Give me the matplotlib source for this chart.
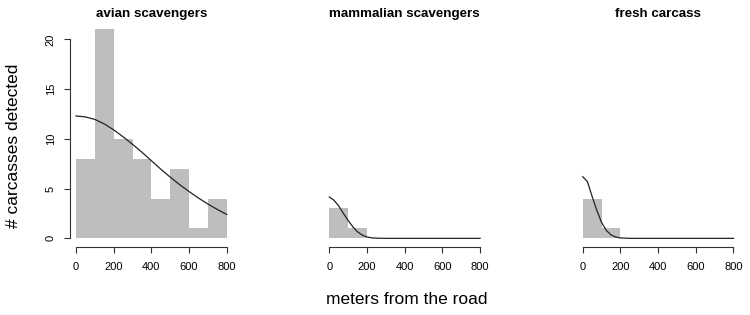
import matplotlib
matplotlib.use("Agg")
import matplotlib.pyplot as plt

plt.rcParams["font.family"] = ["Liberation Sans", "DejaVu Sans"]

# histogram bins (meters from the road) and counts per panel
bin_edges = [0, 100, 200, 300, 400, 500, 600, 700, 800]
avian_counts = [8, 21, 10, 8, 4, 7, 1, 4]
mammal_counts = [3, 1, 0, 0, 0, 0, 0, 0]
fresh_counts = [4, 1, 0, 0, 0, 0, 0, 0]

# fitted detection curves
avian_curve_x = [0, 50, 100, 150, 200, 250, 300, 350, 400, 450, 500, 550, 600, 650, 700, 750, 800]
avian_curve_y = [12.3, 12.2, 11.95, 11.5, 10.9, 10.2, 9.45, 8.65, 7.8, 6.95, 6.15, 5.4, 4.7, 4.05, 3.45, 2.9, 2.4]
mammal_curve_x = [0, 25, 50, 75, 100, 125, 150, 175, 200, 225, 250, 300, 800]
mammal_curve_y = [4.15, 3.82, 3.25, 2.5, 1.8, 1.15, 0.65, 0.32, 0.14, 0.05, 0.02, 0, 0]
fresh_curve_x = [0, 25, 50, 75, 100, 125, 150, 175, 200, 250, 800]
fresh_curve_y = [6.2, 5.7, 4.2, 2.8, 1.6, 0.8, 0.35, 0.13, 0.04, 0, 0]

titles = ["avian scavengers", "mammalian scavengers", "fresh carcass"]
x_ticks = [0, 200, 400, 600, 800]
y_ticks = [0, 5, 10, 15, 20]

panels = [
    (avian_counts, avian_curve_x, avian_curve_y),
    (mammal_counts, mammal_curve_x, mammal_curve_y),
    (fresh_counts, fresh_curve_x, fresh_curve_y),
]

fig = plt.figure(figsize=(7.5, 3.15), dpi=100)
lefts = [70 / 750, 323.3 / 750, 576.7 / 750]
width = 162.8 / 750
bottom = 0.2168
height = 0.7165

for i, (counts, cx, cy) in enumerate(panels):
    ax = fig.add_axes([lefts[i], bottom, width, height])
    ax.bar(bin_edges[:-1], counts, width=100, align="edge",
           color="#bebebe", edgecolor="none")
    ax.plot(cx, cy, color="#222222", lw=0.9)
    ax.set_xlim(-32, 832)
    ax.set_ylim(-0.84, 21.84)
    ax.set_title(titles[i], fontsize=9.6, fontweight="bold", pad=3)

    for s in ["top", "right"]:
        ax.spines[s].set_visible(False)
    ax.spines["bottom"].set_bounds(0, 800)
    ax.spines["bottom"].set_linewidth(0.8)
    ax.spines["bottom"].set_color("#333333")
    ax.set_xticks(x_ticks)
    ax.tick_params(axis="x", direction="out", length=4.3, width=0.8,
                   color="#333333", labelsize=8, pad=7)

    if i == 0:
        ax.spines["left"].set_bounds(0, 20)
        ax.spines["left"].set_linewidth(0.8)
        ax.spines["left"].set_color("#333333")
        ax.set_yticks(y_ticks)
        ax.tick_params(axis="y", direction="out", length=4.3, width=0.8,
                       color="#333333", labelsize=8, pad=6)
        for lab in ax.get_yticklabels():
            lab.set_rotation(90)
            lab.set_va("center")
    else:
        ax.spines["left"].set_visible(False)
        ax.set_yticks([])

fig.text(407 / 750, 0.048, "meters from the road", ha="center", va="center",
         fontsize=12.5)
fig.text(14 / 750, 0.536, "# carcasses detected", ha="center", va="center",
         rotation=90, fontsize=12.5)

fig.savefig("out.png", dpi=100)
